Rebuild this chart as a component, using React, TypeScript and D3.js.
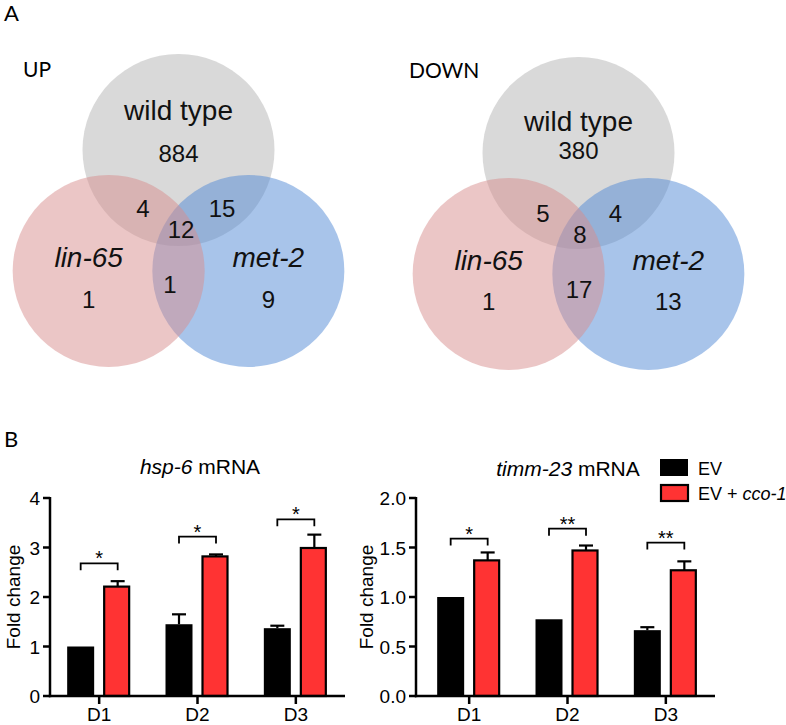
import React from "react";
import * as d3 from "d3";

// ---------- DATA ----------
const setNames = ["wild type", "lin-65", "met-2"];
// region order: onlyWT, onlyLin, onlyMet, wt∩lin, wt∩met, lin∩met, all
const upCounts = [884, 1, 9, 4, 15, 1, 12];
const downCounts = [380, 1, 13, 5, 4, 17, 8];
const vennTitles = ["UP", "DOWN"];

const days = ["D1", "D2", "D3"];
const seriesNames = ["EV", "EV + cco-1"];

const hspEV = [1.0, 1.45, 1.37];
const hspEVErr = [0, 0.2, 0.05];
const hspCco = [2.21, 2.82, 2.99];
const hspCcoErr = [0.11, 0.04, 0.27];
const hspSig = ["*", "*", "*"];
const hspBracket = [2.68, 3.22, 3.57];
const hspTicks = [0, 1, 2, 3, 4];

const timmEV = [1.0, 0.775, 0.665];
const timmEVErr = [0, 0, 0.03];
const timmCco = [1.37, 1.47, 1.27];
const timmCcoErr = [0.08, 0.05, 0.09];
const timmSig = ["*", "**", "**"];
const timmBracket = [1.59, 1.69, 1.55];
const timmTicks = [0, 0.5, 1.0, 1.5, 2.0];

// ---------- STYLE / LAYOUT ----------
const ARIAL = "'Liberation Sans', Arial, sans-serif";
const CAL = "Lato, 'Open Sans', sans-serif";
const GRAY = "rgb(179,179,179)";
const PINK = "rgb(215,141,141)";
const BLUE = "rgb(81,137,213)";
const RED = "#ff3333";

type VennLayout = {
  cx: number; cy: number; r: number; title: [number, number];
  wt: [number, number, number]; // label dy, count dy (relative to gray center)
  side: [number, number, number]; // name dy, count dy, dx magnitude (relative to pink/blue centers)
  pairs: [number, number][]; // wt∩lin, wt∩met, lin∩met, all offsets from centroid
};

const vennLayouts: VennLayout[] = [
  { cx: 178.5, cy: 150, r: 96, title: [23, 77], wt: [-30, 12, 0], side: [-4, 37, 20],
    pairs: [[-35.5, -14], [43.5, -14], [-8.5, 62], [2.5, 7]] },
  { cx: 578.5, cy: 153, r: 96, title: [409, 78], wt: [-22, 6, 0], side: [-4, 36, 20],
    pairs: [[-35.5, -12], [37, -12], [0.5, 64], [1.5, 9]] },
];

function Venn({ counts, layout, title }: { counts: number[]; layout: VennLayout; title: string }) {
  const { cx, cy, r } = layout;
  const s = 1.455 * r; // side of equilateral triangle of centers
  const h = (Math.sqrt(3) / 2) * s;
  const gray = { x: cx, y: cy };
  const pink = { x: cx - s / 2, y: cy + h };
  const blue = { x: cx + s / 2, y: cy + h };
  const centroid = { x: cx, y: cy + (2 / 3) * h };
  const [oWT, oLin, oMet, wl, wm, lm, all] = counts;
  const pairVals = [wl, wm, lm, all];
  return (
    <g>
      <text x={layout.title[0]} y={layout.title[1]} fontFamily={CAL} fontSize={21}>{title}</text>
      <circle cx={gray.x} cy={gray.y} r={r} fill={GRAY} fillOpacity={0.5} />
      <circle cx={blue.x} cy={blue.y} r={r} fill={BLUE} fillOpacity={0.5} />
      <circle cx={pink.x} cy={pink.y} r={r} fill={PINK} fillOpacity={0.5} />
      <g fontFamily={ARIAL} textAnchor="middle" fill="#111">
        <text x={gray.x} y={gray.y + layout.wt[0]} fontSize={28}>{setNames[0]}</text>
        <text x={gray.x} y={gray.y + layout.wt[1]} fontSize={24}>{oWT}</text>
        <text x={pink.x - layout.side[2]} y={pink.y + layout.side[0]} fontSize={28} fontStyle="italic">{setNames[1]}</text>
        <text x={pink.x - layout.side[2]} y={pink.y + layout.side[1]} fontSize={24}>{oLin}</text>
        <text x={blue.x + layout.side[2]} y={blue.y + layout.side[0]} fontSize={28} fontStyle="italic">{setNames[2]}</text>
        <text x={blue.x + layout.side[2]} y={blue.y + layout.side[1]} fontSize={24}>{oMet}</text>
        {pairVals.map((v, i) => (
          <text key={i} x={centroid.x + layout.pairs[i][0]} y={centroid.y + layout.pairs[i][1]} fontSize={24}>{v}</text>
        ))}
      </g>
    </g>
  );
}

type BarProps = {
  x0: number; x1: number; title: React.ReactNode; titleX: number; titleY: number;
  domain: [number, number]; ticks: number[]; fmt: (v: number) => string;
  ev: number[]; evErr: number[]; cco: number[]; ccoErr: number[];
  sig: string[]; bracket: number[]; axisX: number; ylabelX: number;
};

function BarChart(p: BarProps) {
  const yTop = 498, yBot = 696;
  const y = d3.scaleLinear().domain(p.domain).range([yBot, yTop]);
  const x = d3.scaleBand().domain(days).range([p.x0, p.x1]).paddingInner(0).paddingOuter(0);
  const bw = 27;
  const c = (d: string) => (x(d) ?? 0) + x.bandwidth() / 2;
  const blackX = (d: string) => c(d) - 32;
  const redX = (d: string) => c(d) + 5;
  return (
    <g fontFamily={ARIAL}>
      <text x={p.titleX} y={p.titleY} fontSize={21} textAnchor="middle">{p.title}</text>
      <text transform={`translate(${p.ylabelX},${(yTop + yBot) / 2}) rotate(-90)`} fontSize={19} textAnchor="middle">Fold change</text>
      {/* bars */}
      {days.map((d, i) => {
        const yb = y(p.ev[i]);
        const yr = y(p.cco[i]);
        const bcx = blackX(d) + bw / 2;
        const rcx = redX(d) + bw / 2;
        const yBrk = y(p.bracket[i]);
        return (
          <g key={d}>
            {p.evErr[i] > 0 && (
              <g stroke="#000" strokeWidth={2.2}>
                <line x1={bcx} x2={bcx} y1={yb} y2={y(p.ev[i] + p.evErr[i])} />
                <line x1={bcx - 7} x2={bcx + 7} y1={y(p.ev[i] + p.evErr[i])} y2={y(p.ev[i] + p.evErr[i])} />
              </g>
            )}
            <rect x={blackX(d)} y={yb} width={bw} height={yBot - yb} fill="#000" />
            <g stroke="#000" strokeWidth={2.2}>
              <line x1={rcx} x2={rcx} y1={yr} y2={y(p.cco[i] + p.ccoErr[i])} />
              <line x1={rcx - 7} x2={rcx + 7} y1={y(p.cco[i] + p.ccoErr[i])} y2={y(p.cco[i] + p.ccoErr[i])} />
            </g>
            <rect x={redX(d)} y={yr} width={bw - 2} height={yBot - yr} fill={RED} stroke="#000" strokeWidth={2.2} />
            <path d={`M${bcx},${yBrk + 7}V${yBrk}H${rcx}V${yBrk + 7}`} fill="none" stroke="#000" strokeWidth={1.8} />
            <text x={(bcx + rcx) / 2} y={yBrk + 2} fontSize={20} textAnchor="middle">{p.sig[i]}</text>
          </g>
        );
      })}
      {/* y axis */}
      <line x1={p.axisX} x2={p.axisX} y1={yBot + 1.2} y2={yTop - 1} stroke="#000" strokeWidth={2.5} />
      {p.ticks.map((t) => (
        <g key={t}>
          <line x1={p.axisX - 7} x2={p.axisX} y1={y(t)} y2={y(t)} stroke="#000" strokeWidth={2.5} />
          <text x={p.axisX - 10} y={y(t) + 7} fontSize={19} textAnchor="end">{p.fmt(t)}</text>
        </g>
      ))}
      {/* x axis */}
      <line x1={p.axisX - 1.2} x2={p.x1} y1={yBot} y2={yBot} stroke="#000" strokeWidth={2.5} />
      {days.map((d) => (
        <g key={d}>
          <line x1={c(d)} x2={c(d)} y1={yBot} y2={yBot + 8} stroke="#000" strokeWidth={2.5} />
          <text x={c(d)} y={721} fontSize={19} textAnchor="middle">{d}</text>
        </g>
      ))}
    </g>
  );
}

export default function App() {
  return (
    <svg width={786} height={725} style={{ position: "absolute", left: 0, top: 0, background: "#fff" }}>
      <rect width={786} height={725} fill="#fff" />
      <text x={4} y={21} fontFamily={CAL} fontSize={22}>A</text>
      <text x={4} y={447} fontFamily={CAL} fontSize={22}>B</text>
      <Venn counts={upCounts} layout={vennLayouts[0]} title={vennTitles[0]} />
      <Venn counts={downCounts} layout={vennLayouts[1]} title={vennTitles[1]} />
      <BarChart
        x0={50} x1={345} axisX={50} ylabelX={20} titleX={200} titleY={474}
        title={<><tspan fontStyle="italic">hsp-6</tspan> mRNA</>}
        domain={[0, 4]} ticks={hspTicks} fmt={d3.format("d")}
        ev={hspEV} evErr={hspEVErr} cco={hspCco} ccoErr={hspCcoErr} sig={hspSig} bracket={hspBracket}
      />
      <BarChart
        x0={420} x1={715} axisX={416} ylabelX={373} titleX={568} titleY={476}
        title={<><tspan fontStyle="italic">timm-23</tspan> mRNA</>}
        domain={[0, 2]} ticks={timmTicks} fmt={d3.format(".1f")}
        ev={timmEV} evErr={timmEVErr} cco={timmCco} ccoErr={timmCcoErr} sig={timmSig} bracket={timmBracket}
      />
      {/* legend */}
      <g fontFamily={ARIAL} fontSize={18}>
        <rect x={660} y={459} width={28} height={17} fill="#000" />
        <text x={698} y={475}>{seriesNames[0]}</text>
        <rect x={661} y={485} width={27} height={16} fill={RED} stroke="#000" strokeWidth={2.2} />
        <text x={698} y={500}>EV + <tspan fontStyle="italic">cco-1</tspan></text>
      </g>
    </svg>
  );
}
